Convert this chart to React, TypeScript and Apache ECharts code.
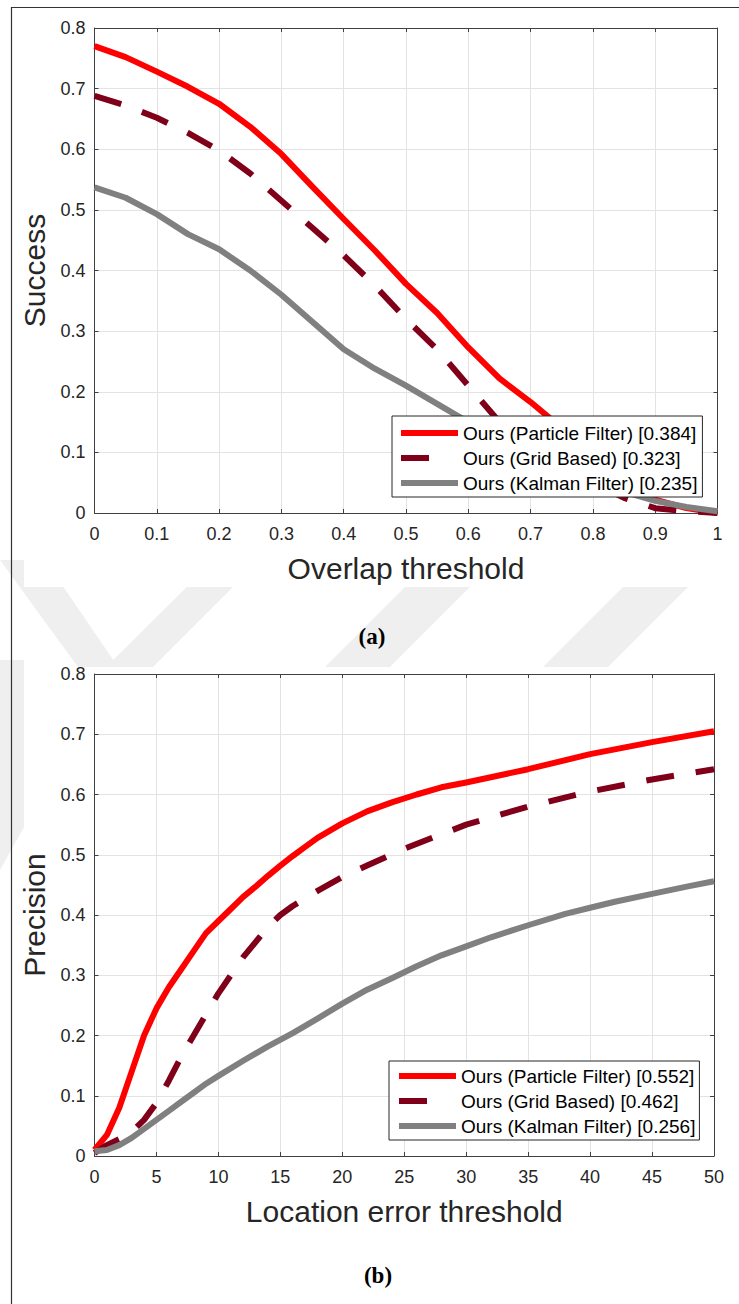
import React, { useEffect, useRef } from "react";
import * as echarts from "echarts";

// ---------- Data: (a) Success vs overlap threshold ----------
const overlapX = [0, 0.05, 0.1, 0.15, 0.2, 0.25, 0.3, 0.35, 0.4, 0.45, 0.5, 0.55, 0.6, 0.65, 0.7, 0.75, 0.8, 0.85, 0.9, 0.95, 1.0];
const successParticle = [0.770, 0.752, 0.728, 0.703, 0.675, 0.637, 0.592, 0.538, 0.485, 0.433, 0.378, 0.330, 0.273, 0.222, 0.183, 0.140, 0.095, 0.055, 0.022, 0.008, 0.0];
const successGrid = [0.688, 0.672, 0.652, 0.627, 0.598, 0.560, 0.515, 0.470, 0.425, 0.375, 0.320, 0.270, 0.210, 0.150, 0.110, 0.080, 0.050, 0.025, 0.008, 0.003, 0.0];
const successKalman = [0.537, 0.520, 0.493, 0.460, 0.435, 0.400, 0.360, 0.315, 0.270, 0.238, 0.210, 0.180, 0.150, 0.120, 0.095, 0.075, 0.055, 0.035, 0.020, 0.010, 0.003];

// ---------- Data: (b) Precision vs location error threshold ----------
const locXParticle = [0, 1, 2, 3, 4, 5, 6, 7, 8, 9, 10, 11, 12, 13, 14, 15, 16, 17, 18, 19, 20, 22, 24, 26, 28, 30, 35, 40, 45, 50];
const precisionParticle = [0.01, 0.035, 0.08, 0.14, 0.2, 0.245, 0.28, 0.31, 0.34, 0.37, 0.39, 0.41, 0.43, 0.447, 0.465, 0.482, 0.498, 0.513, 0.528, 0.54, 0.552, 0.572, 0.587, 0.6, 0.612, 0.62, 0.642, 0.667, 0.687, 0.705];
const locXGrid = [0, 1, 2, 3, 4, 5, 6, 7, 8, 9, 10, 11, 12, 13, 14, 15, 16, 18, 20, 22, 25, 30, 35, 40, 45, 50];
const precisionGrid = [0.005, 0.018, 0.028, 0.04, 0.06, 0.088, 0.125, 0.165, 0.2, 0.235, 0.27, 0.3, 0.33, 0.355, 0.38, 0.4, 0.415, 0.44, 0.463, 0.482, 0.51, 0.55, 0.58, 0.605, 0.625, 0.642];
const locXKalman = [0, 1, 2, 3, 4, 5, 6, 7, 8, 9, 10, 12, 14, 16, 18, 20, 22, 24, 26, 28, 30, 32, 35, 38, 40, 42, 45, 48, 50];
const precisionKalman = [0.008, 0.01, 0.018, 0.03, 0.045, 0.06, 0.075, 0.09, 0.105, 0.12, 0.133, 0.158, 0.182, 0.204, 0.228, 0.253, 0.276, 0.295, 0.315, 0.333, 0.348, 0.363, 0.383, 0.402, 0.412, 0.422, 0.435, 0.448, 0.456];

// ---------- Labels ----------
const legendA = ["Ours (Particle Filter) [0.384]", "Ours (Grid Based) [0.323]", "Ours (Kalman Filter) [0.235]"];
const legendB = ["Ours (Particle Filter) [0.552]", "Ours (Grid Based) [0.462]", "Ours (Kalman Filter) [0.256]"];
const yTicks = { min: 0, max: 0.8, interval: 0.1 };
const xTicksA = { min: 0, max: 1, interval: 0.1 };
const xTicksB = { min: 0, max: 50, interval: 5 };

const RED = "#ff0000";
const DARKRED = "#80001a";
const GRAY = "#808080";
const AXIS = "#404040";
const TEXT = "#262626";
const GRID = "#e3e3e3";
const FONT = "'Liberation Sans', Arial, Helvetica, sans-serif";
const WM = "#efefef";
const LW = 6;

const zip = (xs: number[], ys: number[]) => xs.map((x, i) => [x, ys[i]]);
const fmt = (v: number) => String(Number(v.toFixed(2)));

function xAxes(gridIndex: number, t: { min: number; max: number; interval: number }, name: string) {
  const bottom: any = {
    type: "value", gridIndex, position: "bottom", ...t,
    name, nameLocation: "middle", nameGap: 40,
    nameTextStyle: { fontFamily: FONT, fontSize: 30, color: TEXT },
    axisLine: { show: true, onZero: false, lineStyle: { color: AXIS, width: 1 } },
    axisTick: { show: true, inside: true, length: 4, lineStyle: { color: AXIS } },
    axisLabel: { show: true, margin: 12, fontFamily: FONT, fontSize: 18, color: TEXT, formatter: fmt },
    splitLine: { show: true, lineStyle: { color: GRID, width: 1 } },
  };
  const top: any = {
    type: "value", gridIndex, position: "top", ...t,
    axisLine: { show: true, onZero: false, lineStyle: { color: AXIS, width: 1 } },
    axisTick: { show: true, inside: true, length: 4, lineStyle: { color: AXIS } },
    axisLabel: { show: false },
    splitLine: { show: false },
  };
  return [bottom, top];
}

function yAxes(gridIndex: number, name: string) {
  const left: any = {
    type: "value", gridIndex, position: "left", ...yTicks,
    name, nameLocation: "middle", nameGap: 45,
    nameTextStyle: { fontFamily: FONT, fontSize: 30, color: TEXT },
    axisLine: { show: true, onZero: false, lineStyle: { color: AXIS, width: 1 } },
    axisTick: { show: true, inside: true, length: 4, lineStyle: { color: AXIS } },
    axisLabel: { show: true, margin: 9, fontFamily: FONT, fontSize: 18, color: TEXT, formatter: fmt },
    splitLine: { show: true, lineStyle: { color: GRID, width: 1 } },
  };
  const right: any = {
    type: "value", gridIndex, position: "right", ...yTicks,
    axisLine: { show: true, onZero: false, lineStyle: { color: AXIS, width: 1 } },
    axisTick: { show: true, inside: true, length: 4, lineStyle: { color: AXIS } },
    axisLabel: { show: false },
    splitLine: { show: false },
  };
  return [left, right];
}

function line(name: string, data: number[][], color: string, axisIdx: number, dashed: boolean): any {
  return {
    type: "line", name, data, xAxisIndex: axisIdx, yAxisIndex: axisIdx,
    symbol: "none", smooth: false, silent: true,
    lineStyle: { color, width: LW, type: dashed ? [28, 22] : "solid", cap: "butt", join: "round" },
    itemStyle: { color },
    emphasis: { disabled: true },
  };
}

function legend(names: string[], left: number, top: number, padding: number[]): any {
  return {
    show: true, orient: "vertical", left, top, padding,
    backgroundColor: "#ffffff", borderColor: "#262626", borderWidth: 1, borderRadius: 0,
    itemWidth: 57, itemHeight: 14, itemGap: 5, selectedMode: false,
    itemStyle: { opacity: 0, borderWidth: 0 },
    lineStyle: { width: LW },
    textStyle: { fontFamily: FONT, fontSize: 19, color: "#000000", lineHeight: 20 },
    data: [
      { name: names[0] },
      { name: names[1], lineStyle: { width: LW, type: [28, 60] } },
      { name: names[2] },
    ],
  };
}

export default function App() {
  const ref = useRef<HTMLDivElement>(null);
  useEffect(() => {
    if (!ref.current) return;
    const chart = echarts.init(ref.current, null, { renderer: "svg" });
    const [xa0, xa1] = xAxes(0, xTicksA, "Overlap threshold");
    const [xb0, xb1] = xAxes(1, xTicksB, "Location error threshold");
    const [ya0, ya1] = yAxes(0, "Success");
    const [yb0, yb1] = yAxes(1, "Precision");
    const wm = (pts: number[][]) => ({ type: "polygon", z: -20, silent: true, shape: { points: pts }, style: { fill: WM } });
    const option: any = {
      animation: false,
      backgroundColor: "#ffffff",
      grid: [
        { left: 94.5, top: 28, width: 623, height: 485, containLabel: false },
        { left: 94.5, top: 674, width: 619.5, height: 482, containLabel: false },
      ],
      xAxis: [xa0, xb0, xa1, xb1],
      yAxis: [ya0, yb0, ya1, yb1],
      legend: [legend(legendA, 392, 416, [7, 5, 4, 6]), legend(legendB, 389, 1061, [5, 4, 4, 7])],
      series: [
        line(legendA[0], zip(overlapX, successParticle), RED, 0, false),
        line(legendA[1], zip(overlapX, successGrid), DARKRED, 0, true),
        line(legendA[2], zip(overlapX, successKalman), GRAY, 0, false),
        line(legendB[0], zip(locXParticle, precisionParticle), RED, 1, false),
        line(legendB[1], zip(locXGrid, precisionGrid), DARKRED, 1, true),
        line(legendB[2], zip(locXKalman, precisionKalman), GRAY, 1, false),
      ],
      graphic: [
        // watermark stripes (only visible between/around the figures)
        wm([[0, 560], [45, 560], [118, 667], [78, 667]]),
        wm([[214, 560], [260, 560], [140, 680], [93, 680]]),
        wm([[432, 560], [497, 560], [377, 680], [312, 680]]),
        wm([[650, 560], [715, 560], [595, 680], [530, 680]]),
        wm([[0, 660], [24, 660], [24, 827], [0, 870]]),
        // white figure backgrounds
        { type: "rect", z: -10, silent: true, shape: { x: 24, y: 8, width: 715, height: 579 }, style: { fill: "#ffffff" } },
        { type: "rect", z: -10, silent: true, shape: { x: 24, y: 667, width: 715, height: 637 }, style: { fill: "#ffffff" } },
        // page frame
        { type: "line", z: 50, silent: true, shape: { x1: 11, y1: 7.5, x2: 739, y2: 7.5 }, style: { stroke: "#333333", lineWidth: 1.2 } },
        { type: "line", z: 50, silent: true, shape: { x1: 11.5, y1: 7, x2: 11.5, y2: 1304 }, style: { stroke: "#333333", lineWidth: 1.2 } },
        // captions
        { type: "text", z: 50, silent: true, x: 372, y: 636, style: { text: "(a)", font: "bold 23px 'Liberation Serif', 'Times New Roman', serif", fill: "#000000", align: "center", verticalAlign: "middle" } },
        { type: "text", z: 50, silent: true, x: 378, y: 1275, style: { text: "(b)", font: "bold 23px 'Liberation Serif', 'Times New Roman', serif", fill: "#000000", align: "center", verticalAlign: "middle" } },
      ],
    };
    chart.setOption(option);
    return () => chart.dispose();
  }, []);
  return <div ref={ref} style={{ position: "absolute", left: 0, top: 0, width: 739, height: 1304 }} />;
}
